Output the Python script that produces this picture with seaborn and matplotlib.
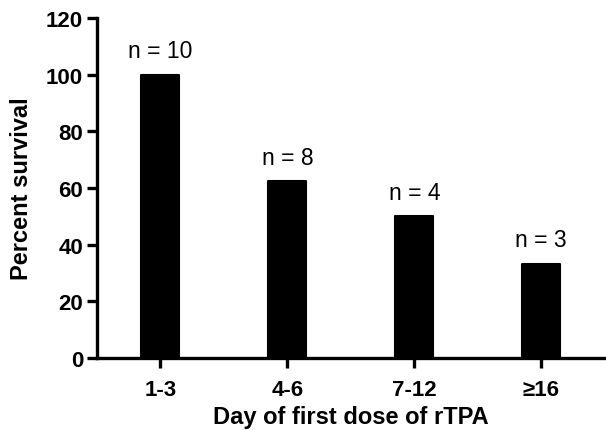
import matplotlib
matplotlib.use("Agg")
import matplotlib.pyplot as plt
import seaborn as sns
import pandas as pd

categories = ["1-3", "4-6", "7-12", "\u226516"]
survival = [100.0, 62.5, 50.0, 33.3]
n_labels = ["n = 10", "n = 8", "n = 4", "n = 3"]
y_ticks = [0, 20, 40, 60, 80, 100, 120]

sns.set_style("ticks")
plt.rcParams["font.family"] = ["Liberation Sans", "DejaVu Sans"]
plt.rcParams["text.color"] = "black"
plt.rcParams["axes.labelcolor"] = "black"
plt.rcParams["xtick.color"] = "black"
plt.rcParams["ytick.color"] = "black"

df = pd.DataFrame({"day": categories, "survival": survival})

fig = plt.figure(figsize=(6.06, 4.31), dpi=100)
ax = fig.add_axes([0.160, 0.167, 0.838, 0.789])

sns.barplot(data=df, x="day", y="survival", color="black", width=0.3,
            saturation=1, ax=ax, edgecolor="black", linewidth=1.5)
for p in ax.patches:
    p.set_joinstyle("round")

for p, lab in zip(ax.patches, n_labels):
    ax.annotate(lab, (p.get_x() + p.get_width() / 2, p.get_height()),
                xytext=(0, 12.5), textcoords="offset points",
                ha="center", va="baseline", fontsize=16.5, color="black")

ax.set_ylim(0, 120)
ax.set_xlim(-0.5, 3.5)
ax.set_yticks(y_ticks)
ax.set_yticklabels([str(t) for t in y_ticks], fontsize=16, fontweight="bold")
ax.set_xticks(range(len(categories)))
ax.set_xticklabels(categories, fontsize=16, fontweight="bold")
ax.set_xlabel("Day of first dose of rTPA", fontsize=17, fontweight="bold", labelpad=4)
ax.set_ylabel("Percent survival", fontsize=17, fontweight="bold", labelpad=9)

for s in ["top", "right"]:
    ax.spines[s].set_visible(False)
for s in ["left", "bottom"]:
    ax.spines[s].set_linewidth(2.4)
    ax.spines[s].set_color("black")
ax.tick_params(axis="both", width=2.4, length=7, color="black", pad=3)
ax.tick_params(axis="x", pad=8)

fig.savefig("out.png", dpi=100)
